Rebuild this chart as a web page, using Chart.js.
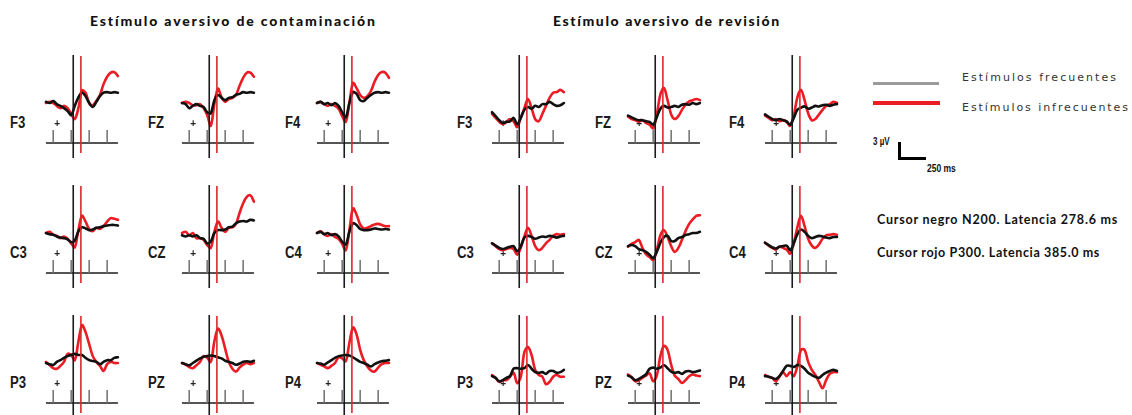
<!DOCTYPE html>
<html lang="es">
<head>
<meta charset="utf-8">
<title>Potenciales evocados: estímulos aversivos</title>
<script src="https://cdn.jsdelivr.net/npm/chart.js@4.4.1/dist/chart.umd.min.js"></script>
<style>
  html, body { margin: 0; padding: 0; background: #fff; }
  #fig { position: relative; width: 1132px; height: 415px; overflow: hidden; background: #fff; }
  #fig canvas { position: absolute; }
  .t { position: absolute; white-space: nowrap; color: #111; line-height: 1; }
  .title { font-family: Lato, "Open Sans", sans-serif; font-weight: 900; font-size: 14px; }
  .elec { font-family: "Liberation Sans", sans-serif; font-weight: bold; font-size: 16px; color: #1a1a1a; }
  .leg { font-family: "DejaVu Sans", sans-serif; font-size: 11px; color: #333; }
  .scale { font-family: "Liberation Sans", sans-serif; font-weight: bold; font-size: 10px; }
  .cur { font-family: Lato, sans-serif; font-weight: bold; font-size: 12.5px; }
  .bar { position: absolute; }
</style>
</head>
<body>
<div id="fig"></div>
<script>
// ---- data -----------------------------------------------------------
// sample times (ms) of every averaged waveform
const timesMs = [-100, -50, 0, 50, 100, 150, 200, 250, 300, 350, 400, 450, 500, 550, 600, 650, 700, 750, 800, 850, 900];
// unlabelled time ticks (ms) under each trace
const tickMs = [0, 250, 500, 750];
// cursor latencies (ms)
const cursorN200 = 278.6;
const cursorP300 = 385.0;

const groupTitles = ['Estímulo aversivo de contaminación', 'Estímulo aversivo de revisión'];
const electrodeRows = [['F3', 'FZ', 'F4'], ['C3', 'CZ', 'C4'], ['P3', 'PZ', 'P4']];
const legendLabels = ['Estímulos frecuentes', 'Estímulos infrecuentes'];
const scaleLabels = ['3 µV', '250 ms'];
const cursorNotes = ['Cursor negro N200. Latencia 278.6 ms', 'Cursor rojo P300. Latencia 385.0 ms'];

// amplitudes (µV) — contaminación, frequent (black) / infrequent (red)
const cF3Frec   = [0.2, 0, 0.35, -0.2, -0.5, -0.9, -1.4, -2.1, -0.5, 1.0, 1.8, 1.2, 0, -0.7, 0.2, 1.2, 1.8, 1.9, 1.8, 1.9, 1.8];
const cF3Infrec = [0, 0.2, 0, -0.5, -0.9, -0.5, -0.9, -1.9, -2.8, -0.9, 2.2, 1.8, 0, -0.4, 0.4, 1.4, 3.3, 4.6, 5.3, 5.4, 4.7];
const cFZFrec   = [0, -0.2, -0.9, -0.5, -0.2, -0.5, -0.7, -1.6, -1.8, 0.5, 1.4, 0.9, 0.5, 0.9, 1.0, 1.4, 1.6, 1.9, 1.8, 1.9, 1.8];
const cFZInfrec = [0, 0.2, 0, -0.4, -0.4, -0.2, -0.9, -2.1, -4.0, -0.2, 2.5, 1.0, 0.2, 0.7, 0.9, 1.4, 3.0, 4.4, 5.3, 5.3, 4.6];
const cF4Frec   = [0, 0.2, -0.2, 0, -0.4, 0, -0.5, -1.6, -2.5, 0, 1.9, 1.6, 0.5, 0.35, 0.9, 1.4, 1.8, 1.9, 1.8, 1.9, 1.8];
const cF4Infrec = [0, 0.2, -0.2, -0.5, -0.2, -0.5, -1.0, -2.3, -3.3, 0, 3.5, 2.6, 1.4, 0.9, 1.2, 2.1, 3.7, 4.9, 5.4, 5.3, 4.4];
const cC3Frec   = [0, -0.2, -0.3, -0.6, -0.8, -0.9, -1.1, -1.6, -1.3, 0.3, 1.0, 0.8, 0.5, 0.6, 0.9, 1.0, 1.2, 1.3, 1.4, 1.4, 1.3];
const cC3Infrec = [0, 0.2, -0.3, -0.5, -0.9, -0.6, -1.0, -1.8, -2.5, 0.5, 3.0, 2.0, 0.7, 0.3, 0.9, 0.7, 1.2, 2.0, 2.6, 2.5, 2.3];
const cCZFrec   = [-0.4, -0.6, -0.4, -0.6, -0.4, -0.9, -1.0, -1.8, -1.5, 0, 0.5, 0.5, 0.6, 1.0, 1.1, 1.7, 2.0, 2.1, 2.0, 2.3, 2.2];
const cCZInfrec = [0, 0.2, -0.4, 0, -0.9, -0.9, -1.2, -2.1, -2.6, 0.2, 2.0, 0.9, 0.2, 0.9, 1.0, 1.6, 3.5, 5.2, 6.3, 6.6, 5.5];
const cC4Frec   = [0, 0.2, -0.2, 0, -0.4, -0.2, -0.6, -1.5, -2.0, 0.2, 1.7, 1.4, 0.7, 0.5, 0.5, 0.6, 0.8, 0.7, 0.6, 0.7, 0.6];
const cC4Infrec = [0, 0.3, -0.2, -0.5, -0.2, -0.7, -1.0, -1.9, -3.0, 0.5, 4.3, 3.2, 1.5, 0.8, 0.9, 1.2, 1.5, 1.6, 1.4, 1.2, 1.2];
const cP3Frec   = [0, -0.2, -0.35, 0.2, 0.5, 0.9, 1.2, 1.4, 1.6, 1.4, 1.4, 0.9, 0.5, 0.35, 0.2, -0.2, 0.2, 0.5, 0.5, 0.9, 1.0];
const cP3Infrec = [0.2, -0.35, -0.9, -1.0, -0.5, 0.2, 1.6, 1.4, 0.5, 3.7, 6.6, 5.4, 3.3, 1.2, 0.2, -0.5, -1.4, -0.2, 0.2, 0, 0];
const cPZFrec   = [0, -0.2, -0.4, 0, 0.4, 0.8, 1.1, 1.2, 1.3, 1.2, 1.0, 0.8, 0.4, 0.2, 0, -0.3, -0.1, 0.2, 0.3, 0.2, 0.4];
const cPZInfrec = [0, -0.3, -0.7, -0.9, -0.4, 0.2, 1.2, 0.9, 0.2, 3.8, 6.0, 4.8, 2.5, 0.2, -1.0, -1.5, -0.8, -0.3, 0, -0.2, 0];
const cP4Frec   = [0, -0.1, -0.3, 0.1, 0.5, 0.9, 1.2, 1.3, 1.4, 1.3, 1.0, 0.6, 0.2, 0, -0.3, -0.6, -0.2, 0.1, 0.3, 0.4, 0.5];
const cP4Infrec = [0, -0.3, -0.6, -0.9, -0.5, 0, 1.0, 0.8, 0.3, 3.5, 6.2, 5.0, 2.3, 0.5, -0.6, -1.3, -1.5, -0.8, -0.2, 0, 0];

// amplitudes (µV) — revisión, frequent (black) / infrequent (red)
const rF3Frec   = [-1.6, -2.3, -3.0, -3.5, -3.3, -3.2, -2.6, -3.7, -2.6, -1.2, -0.7, -1.0, -0.5, -0.7, -0.2, -0.2, 0.2, -0.2, -0.5, -0.4, 0];
const rF3Infrec = [-1.9, -2.6, -3.3, -3.7, -3.3, -2.8, -3.2, -4.2, -2.6, -0.9, 0.7, -0.9, -2.8, -3.2, -1.9, -0.5, 0.9, 1.8, 1.9, 2.3, 1.9];
const rFZFrec   = [-2.2, -2.5, -2.8, -3.0, -3.0, -3.2, -3.3, -3.8, -2.5, -1.0, -0.5, -0.8, -0.7, -0.5, -0.7, -0.3, -0.2, -0.3, 0, -0.2, 0];
const rFZInfrec = [-2.4, -2.8, -3.0, -3.3, -3.0, -3.5, -3.8, -4.4, -2.0, 1.5, 2.6, 0.5, -2.0, -2.8, -2.3, -1.2, -0.3, 0.3, 0.5, 0.7, 0.5];
const rF4Frec   = [-2.0, -2.4, -2.8, -3.0, -2.8, -3.0, -3.2, -3.8, -2.6, -1.2, -0.8, -0.6, -1.0, -0.8, -0.5, -0.6, -0.4, -0.3, -0.5, -0.3, -0.2];
const rF4Infrec = [-2.2, -2.6, -3.0, -2.8, -3.2, -3.0, -3.3, -4.0, -2.2, 1.0, 2.3, 0.5, -1.8, -3.0, -2.8, -2.0, -1.2, -0.5, -0.2, 0.2, 0];
const rC3Frec   = [-1.8, -2.2, -2.6, -2.8, -2.6, -2.4, -2.3, -3.2, -2.3, -0.8, -0.5, -0.7, -1.0, -0.8, -0.6, -0.7, -0.5, -0.6, -0.8, -0.6, -0.5];
const rC3Infrec = [-1.8, -2.3, -2.8, -3.0, -2.8, -2.6, -2.8, -3.8, -2.6, -0.6, 0.9, -0.5, -2.3, -3.0, -2.6, -1.8, -1.2, -0.5, -0.2, -0.3, -0.2];
const rCZFrec   = [-2.3, -2.1, -2.3, -2.8, -3.0, -3.3, -3.8, -4.4, -3.3, -1.7, -0.7, -0.5, -1.4, -1.4, -0.9, -0.7, -0.35, -0.2, 0, 0, 0.2];
const rCZInfrec = [-2.4, -1.9, -1.6, -1.2, -2.6, -3.7, -4.2, -4.7, -3.0, -0.4, 0.5, -0.7, -2.3, -3.3, -2.6, -1.2, 0.35, 1.6, 2.4, 3.0, 3.1];
const rC4Frec   = [-1.7, -2.1, -2.5, -2.7, -2.4, -2.3, -2.2, -3.0, -1.8, -0.2, 0.6, 0.2, -0.5, -0.9, -0.7, -0.5, -0.6, -0.8, -0.9, -0.7, -0.7];
const rC4Infrec = [-1.7, -2.2, -2.6, -2.9, -2.4, -2.6, -2.9, -3.6, -1.8, 1.0, 3.0, 1.2, -1.0, -2.2, -2.6, -2.0, -1.0, -0.4, -0.3, -0.2, -0.3];
const rP3Frec   = [-2.3, -2.6, -3.2, -3.0, -2.6, -2.3, -1.0, -0.9, -1.0, -0.9, -0.35, -1.0, -1.6, -1.7, -1.6, -1.9, -1.4, -1.4, -1.7, -1.6, -1.2];
const rP3Infrec = [-2.1, -2.6, -3.3, -3.0, -3.0, -2.4, -1.7, -3.5, -2.4, 1.9, 2.8, 1.4, -1.2, -2.1, -2.4, -3.7, -3.3, -2.4, -2.1, -2.4, -2.4];
const rPZFrec   = [-2.2, -2.5, -3.0, -2.8, -2.4, -2.0, -1.0, -0.8, -1.0, -0.8, -0.4, -0.9, -1.5, -1.7, -1.6, -1.9, -1.5, -1.4, -1.6, -1.5, -1.3];
const rPZInfrec = [-2.0, -2.5, -3.2, -3.0, -2.6, -2.2, -1.8, -3.2, -2.2, 1.2, 3.0, 2.3, -0.3, -2.2, -2.8, -3.5, -3.0, -2.3, -2.0, -2.2, -2.3];
const rP4Frec   = [-2.3, -2.4, -2.6, -2.8, -2.3, -1.4, -0.5, -0.5, -0.7, -0.35, -0.5, -1.0, -1.7, -2.1, -2.4, -2.6, -2.1, -1.7, -1.4, -1.2, -1.4];
const rP4Infrec = [-2.1, -2.4, -2.6, -3.2, -2.4, -1.6, -2.3, -1.6, -2.3, -0.5, 2.3, 2.3, 0.2, -1.2, -2.1, -3.3, -4.4, -3.0, -1.9, -1.6, -1.6];

// waveform pairs per group, in electrodeRows order
const contaminacion = [
  [[cF3Frec, cF3Infrec], [cFZFrec, cFZInfrec], [cF4Frec, cF4Infrec]],
  [[cC3Frec, cC3Infrec], [cCZFrec, cCZInfrec], [cC4Frec, cC4Infrec]],
  [[cP3Frec, cP3Infrec], [cPZFrec, cPZInfrec], [cP4Frec, cP4Infrec]]
];
const revision = [
  [[rF3Frec, rF3Infrec], [rFZFrec, rFZInfrec], [rF4Frec, rF4Infrec]],
  [[rC3Frec, rC3Infrec], [rCZFrec, rCZInfrec], [rC4Frec, rC4Infrec]],
  [[rP3Frec, rP3Infrec], [rPZFrec, rPZInfrec], [rP4Frec, rP4Infrec]]
];

// ---- layout ---------------------------------------------------------
const fig = document.getElementById('fig');
const T_MIN = -100, T_MAX = 900;
const MS_PER_PX = 13.9;        // horizontal scale of each trace
const PX_PER_UV = 5.72;        // vertical scale of each trace
const ABOVE = 88, BELOW = 15;  // plot extent above / below the time axis (px)
const ZERO_UP = 40;            // 0 µV sits this far above the time axis (px)
const TICK_H = 13;
const colTick0 = [[53, 189, 324], [499, 635, 772]]; // x of the 0 ms tick
const rowAxis = [143, 273, 403];                     // y of the time axis
const labelX = [[10, 148, 285], [457, 595, 729]];

const BLACK = '#111111';
const RED = '#ec1c24';
const uv = px => px / PX_PER_UV;

const erpMarks = {
  id: 'erpMarks',
  beforeDatasetsDraw(chart) {
    const { ctx, scales: { x, y } } = chart;
    const yAxis = y.getPixelForValue(uv(-ZERO_UP));
    const yTickTop = y.getPixelForValue(uv(-ZERO_UP + TICK_H));
    ctx.save();
    ctx.strokeStyle = '#555';
    ctx.lineWidth = 2;
    ctx.beginPath();
    ctx.moveTo(x.getPixelForValue(T_MIN), yAxis);
    ctx.lineTo(x.getPixelForValue(T_MAX), yAxis);
    ctx.stroke();
    ctx.strokeStyle = '#707070';
    ctx.lineWidth = 1.5;
    tickMs.forEach(t => {
      const px = x.getPixelForValue(t);
      ctx.beginPath();
      ctx.moveTo(px, yAxis);
      ctx.lineTo(px, yTickTop);
      ctx.stroke();
    });
    // stimulus-onset marker
    ctx.fillStyle = '#222';
    ctx.font = 'bold 10px "Liberation Sans", sans-serif';
    ctx.textAlign = 'center';
    ctx.textBaseline = 'middle';
    ctx.fillText('+', x.getPixelForValue(55), y.getPixelForValue(uv(-ZERO_UP + 19)));
    ctx.restore();
  },
  afterDatasetsDraw(chart) {
    const { ctx, chartArea, scales: { x, y } } = chart;
    ctx.save();
    ctx.lineWidth = 1.6;
    ctx.strokeStyle = '#1b1b1b';
    let px = x.getPixelForValue(cursorN200);
    ctx.beginPath();
    ctx.moveTo(px, chartArea.top);
    ctx.lineTo(px, chartArea.bottom);
    ctx.stroke();
    ctx.strokeStyle = '#e0262b';
    px = x.getPixelForValue(cursorP300);
    ctx.beginPath();
    ctx.moveTo(px, chartArea.top + 1);
    ctx.lineTo(px, y.getPixelForValue(uv(-ZERO_UP - 10)));
    ctx.stroke();
    ctx.restore();
  }
};

function drawPanel(tick0X, axisY, frec, infrec) {
  const padL = 5, padT = 3, padB = 3;
  const areaW = (T_MAX - T_MIN) / MS_PER_PX;
  const W = Math.round(areaW + padL + 7);
  const H = ABOVE + BELOW + padT + padB;
  const canvas = document.createElement('canvas');
  canvas.width = W; canvas.height = H;
  canvas.style.width = W + 'px'; canvas.style.height = H + 'px';
  canvas.style.left = Math.round(tick0X + T_MIN / MS_PER_PX - padL) + 'px';
  canvas.style.top = (axisY - ABOVE - padT) + 'px';
  fig.appendChild(canvas);
  const pts = arr => arr.map((v, i) => ({ x: timesMs[i], y: v }));
  new Chart(canvas, {
    type: 'line',
    data: {
      datasets: [
        { label: legendLabels[0], data: pts(frec), borderColor: BLACK, borderWidth: 2.6, order: 0, clip: 6 },
        { label: legendLabels[1], data: pts(infrec), borderColor: RED, borderWidth: 2.6, order: 1, clip: 6 }
      ]
    },
    options: {
      responsive: false,
      animation: false,
      devicePixelRatio: 1,
      layout: { padding: { left: padL, right: W - padL - areaW, top: padT, bottom: padB } },
      elements: {
        point: { radius: 0 },
        line: { tension: 0.35, borderCapStyle: 'round', borderJoinStyle: 'round' }
      },
      scales: {
        x: { type: 'linear', min: T_MIN, max: T_MAX, display: false },
        y: { type: 'linear', min: uv(-(ZERO_UP + BELOW)), max: uv(ABOVE - ZERO_UP), display: false }
      },
      plugins: { legend: { display: false }, tooltip: { enabled: false } }
    },
    plugins: [erpMarks]
  });
}

function addText(str, cls, x, cy, targetW, squeeze) {
  const el = document.createElement('div');
  el.className = 't ' + cls;
  el.textContent = str;
  el.style.left = x + 'px';
  el.style.top = cy + 'px';
  el.style.transformOrigin = '0 50%';
  el.style.transform = 'translateY(-50%)' + (squeeze ? ' scaleX(' + squeeze + ')' : '');
  fig.appendChild(el);
  if (targetW) {
    const w = el.getBoundingClientRect().width;
    el.style.letterSpacing = ((targetW - w) / str.length) + 'px';
  }
  return el;
}

function addBar(x, y, w, h, color) {
  const el = document.createElement('div');
  el.className = 'bar';
  Object.assign(el.style, { left: x + 'px', top: y + 'px', width: w + 'px', height: h + 'px', background: color });
  fig.appendChild(el);
}

// group titles
addText(groupTitles[0], 'title', 90, 21, 287);
addText(groupTitles[1], 'title', 553, 21, 228);

// the 18 traces
[contaminacion, revision].forEach((group, g) => {
  group.forEach((row, r) => {
    row.forEach((pair, c) => {
      drawPanel(colTick0[g][c], rowAxis[r], pair[0], pair[1]);
      addText(electrodeRows[r][c], 'elec', labelX[g][c], rowAxis[r] - 20, 0, 0.82);
    });
  });
});

// legend
addBar(873, 82, 66, 3, '#9a9a9a');
addBar(873, 101, 67, 3.5, RED);
addText(legendLabels[0], 'leg', 962, 77, 156);
addText(legendLabels[1], 'leg', 962, 107, 168);

// calibration bar
addBar(898, 142, 3, 17, '#000');
addBar(898, 157, 28, 3, '#000');
addText(scaleLabels[0], 'scale', 873, 142, 0, 0.8);
addText(scaleLabels[1], 'scale', 927, 169, 0, 0.85);

// cursor notes
addText(cursorNotes[0], 'cur', 877, 220, 241);
addText(cursorNotes[1], 'cur', 877, 253, 223);
</script>
</body>
</html>
